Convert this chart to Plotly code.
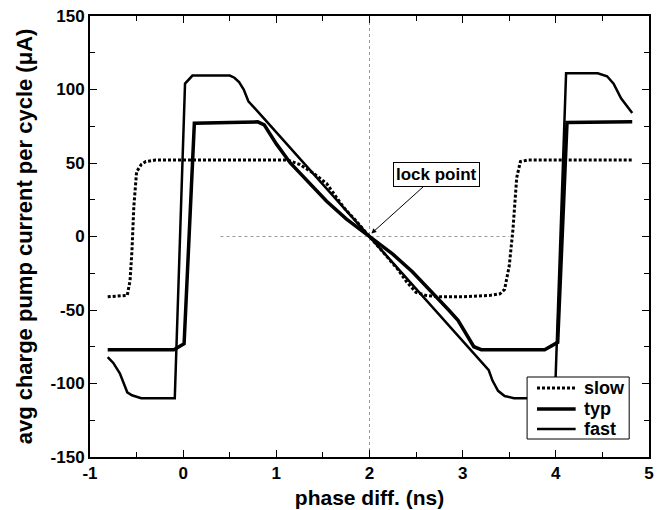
import plotly.graph_objects as go

# ---- data ----
slow_x = [-0.81, -0.6, -0.57, -0.55, -0.53, -0.5, -0.45, -0.4, -0.3, 0.0, 0.5, 1.0, 1.12,
          1.25, 1.4, 1.54, 1.72, 1.85, 2.0, 2.15, 2.3, 2.4, 2.5, 2.6, 2.75, 3.0, 3.3, 3.4,
          3.45, 3.5, 3.54, 3.58, 3.62, 3.7, 4.0, 4.5, 4.83]
slow_y = [-41, -40, -30, -10, 20, 44, 49, 51, 52, 52, 52, 52, 52,
          49, 43, 36, 20, 11, 0, -11, -22, -31, -38, -40, -41, -41, -40, -39,
          -36, -20, 5, 40, 51, 52, 52, 52, 52]

typ_x = [-0.81, -0.1, 0.01, 0.12, 0.5, 0.8, 0.87, 0.93, 1.0, 1.15, 1.3, 1.54, 1.75, 2.0,
         2.25, 2.46, 2.69, 2.85, 2.95, 3.05, 3.12, 3.2, 3.88, 4.02, 4.12, 4.82]
typ_y = [-77, -77, -73, 77, 77.5, 78, 76, 70, 63, 50, 40, 24, 12, 0,
         -12, -24, -39, -50, -57, -68, -75, -77, -77, -72, 77.5, 78]

fast_x = [-0.81, -0.75, -0.68, -0.63, -0.6, -0.55, -0.45, -0.09, 0.02, 0.1, 0.5, 0.55,
          0.6, 0.65, 0.7, 0.9, 2.0, 3.28, 3.32, 3.38, 3.45, 3.55, 3.99, 4.11, 4.45, 4.55,
          4.62, 4.7, 4.82]
fast_y = [-82, -86, -93, -101, -106, -108, -110, -110, 104, 109.5, 109.5, 108,
          105, 100, 92, 78, 0, -91, -98, -105, -108.5, -110, -110, 111, 111, 109,
          104, 94, 84]

series_names = ["slow", "typ", "fast"]

x_tickvals = [-1, 0, 1, 2, 3, 4, 5]
x_ticktext = ["-1", "0", "1", "2", "3", "4", "5"]
y_tickvals = [-150, -100, -50, 0, 50, 100, 150]
y_ticktext = ["-150", "-100", "-50", "0", "50", "100", "150"]

FONT = "Liberation Sans, Arial, sans-serif"

line_styles = [dict(color="black", width=3, dash="3px,2px"),
               dict(color="black", width=3.5),
               dict(color="black", width=2.5)]

fig = go.Figure()
for xs, ys, name, ls in zip([slow_x, typ_x, fast_x], [slow_y, typ_y, fast_y],
                            series_names, line_styles):
    fig.add_trace(go.Scatter(x=xs, y=ys, mode="lines", name=name, line=ls))

# faint reference lines
fig.add_shape(type="line", x0=2, x1=2, y0=-150, y1=150, xref="x", yref="y",
              line=dict(color="#999999", width=1, dash="dot"), layer="below")
fig.add_shape(type="line", x0=0.4, x1=3.5, y0=0, y1=0, xref="x", yref="y",
              line=dict(color="#999999", width=1, dash="dot"), layer="below")

fig.add_annotation(x=2.02, y=2, ax=2.72, ay=42, xref="x", yref="y", axref="x", ayref="y",
                   text="lock point", showarrow=True, arrowhead=2, arrowsize=1,
                   arrowwidth=1, arrowcolor="black",
                   bordercolor="black", borderwidth=1, borderpad=2, bgcolor="white",
                   font=dict(family=FONT, size=17, color="black", weight="bold"))

# ---- hand-built legend (compact, like the original) ----
L, R, T, B = 90, 654, 16, 457  # plot-area pixel box
def px(xp):
    return (xp - L) / (R - L)
def py(yp):
    return (B - yp) / (B - T)

fig.add_shape(type="rect", xref="paper", yref="paper",
              x0=px(531), x1=px(634), y0=py(439), y1=py(377),
              line=dict(color="black", width=1), fillcolor="white", layer="above")
legend_rows = [388, 409, 429]
for name, ls, yr in zip(series_names, line_styles, legend_rows):
    fig.add_shape(type="line", xref="paper", yref="paper",
                  x0=px(541), x1=px(580), y0=py(yr), y1=py(yr),
                  line=ls, layer="above")
    fig.add_annotation(xref="paper", yref="paper", x=px(586), y=py(yr),
                       xanchor="left", yanchor="middle", showarrow=False, text=name,
                       font=dict(family=FONT, size=18, color="black", weight="bold"))

axis_common = dict(
    showline=True, linecolor="black", linewidth=2, mirror="ticks",
    ticks="inside", ticklen=7, tickwidth=1, tickcolor="black",
    showgrid=False, zeroline=False,
    tickfont=dict(family=FONT, size=17, color="black", weight="bold"),
)

fig.update_xaxes(range=[-1, 5], tickvals=x_tickvals, ticktext=x_ticktext,
                 minor=dict(dtick=0.5, tick0=-1, ticks="inside", ticklen=5, tickcolor="black"),
                 title=dict(text="phase diff. (ns)", standoff=8,
                            font=dict(family=FONT, size=21, color="black", weight="bold")),
                 **axis_common)
fig.update_yaxes(range=[-150, 150], tickvals=y_tickvals, ticktext=y_ticktext,
                 minor=dict(dtick=25, tick0=-150, ticks="inside", ticklen=5, tickcolor="black"),
                 title=dict(text="avg charge pump current per cycle (μA)", standoff=12,
                            font=dict(family=FONT, size=22, color="black", weight="bold")),
                 **axis_common)

fig.update_layout(
    width=657, height=510,
    margin=dict(l=90, r=3, t=16, b=53),
    paper_bgcolor="white", plot_bgcolor="white",
    showlegend=False,
)

fig.write_html("out.html")
